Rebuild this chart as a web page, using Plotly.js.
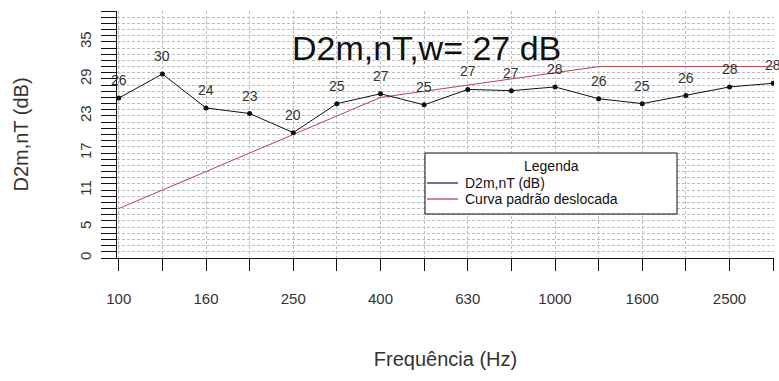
<!DOCTYPE html>
<html><head><meta charset="utf-8">
<script src="https://cdn.plot.ly/plotly-3.0.1.min.js"></script>
<style>html,body{margin:0;padding:0;background:#fff}</style>
</head><body><div id="chart" style="width:779px;height:381px"></div>
<script>
// ---- data ----
const frequencies = ['100','125','160','200','250','315','400','500','630','800','1000','1250','1600','2000','2500','3150'];
const xTickLabels = ['100','','160','','250','','400','','630','','1000','','1600','','2500',''];
const measured = [25.9, 29.8, 24.3, 23.4, 20.3, 25.0, 26.6, 24.8, 27.3, 27.1, 27.7, 25.8, 25.0, 26.3, 27.7, 28.3];
const shiftedReference = [8, 11, 14, 17, 20, 23, 26, 27, 28, 29, 30, 31, 31, 31, 31, 31];
const yTickLabels = [0, 5, 11, 17, 23, 29, 35];
const ratingText = 'D2m,nT,w= 27 dB';
const legendTitle = 'Legenda';
const seriesNames = ['D2m,nT (dB)', 'Curva padrão deslocada'];
const xTitle = 'Frequência (Hz)';
const yTitle = 'D2m,nT (dB)';

// ---- build ----
const FONT = 'Liberation Sans, Arial, sans-serif';
const W = 779, H = 381;
const M = {l: 117, r: 5, t: 11, b: 123};
const plotW = W - M.l - M.r, plotH = H - M.t - M.b;
const px = x => (x - M.l) / plotW;
const py = y => (H - M.b - y) / plotH;

const xIdx = frequencies.map((_, i) => i);
const yMinor = [];
for (let v = 0; v <= 40; v++) yMinor.push(v);
const yMinorText = yMinor.map(v => yTickLabels.includes(v) ? String(v) : '');

const colData = '#111111';
const colRef = '#b5434e';
const colLegendData = '#1f2a6b';

const traces = [
  {x: xIdx, y: shiftedReference, mode: 'lines', name: seriesNames[1],
   line: {color: colRef, width: 1}, showlegend: false, hoverinfo: 'skip'},
  {x: xIdx, y: measured, mode: 'lines+markers', name: seriesNames[0],
   line: {color: colData, width: 1}, marker: {color: colData, size: 5},
   showlegend: false, hoverinfo: 'skip'}
];

const annotations = measured.map((v, i) => ({
  x: i, y: v, xref: 'x', yref: 'y', yshift: 18, showarrow: false,
  xanchor: 'center', yanchor: 'middle',
  text: String(Math.round(v)), font: {family: FONT, size: 14, color: '#333333'}
}));
annotations.push({
  x: 7.05, y: 34.0, xref: 'x', yref: 'y', showarrow: false, text: ratingText,
  xanchor: 'center', yanchor: 'middle',
  font: {family: FONT, size: 34, color: '#111111'}
});
// legend (drawn)
const legFont = {family: FONT, size: 14, color: '#111'};
annotations.push({x: px(551), y: py(166), xref: 'paper', yref: 'paper', showarrow: false,
  xanchor: 'center', yanchor: 'middle', text: legendTitle, font: legFont});
annotations.push({x: px(463), y: py(183), xref: 'paper', yref: 'paper', xanchor: 'left', yanchor: 'middle',
  showarrow: false, text: seriesNames[0], font: legFont});
annotations.push({x: px(463), y: py(199), xref: 'paper', yref: 'paper', xanchor: 'left', yanchor: 'middle',
  showarrow: false, text: seriesNames[1], font: legFont});

const shapes = [
  {type: 'rect', xref: 'paper', yref: 'paper', x0: px(425), x1: px(677), y0: py(214), y1: py(153),
   fillcolor: '#ffffff', line: {color: '#111', width: 1}},
  {type: 'line', xref: 'paper', yref: 'paper', x0: px(427), x1: px(458), y0: py(183), y1: py(183),
   line: {color: colLegendData, width: 1.3}},
  {type: 'line', xref: 'paper', yref: 'paper', x0: px(427), x1: px(458), y0: py(199), y1: py(199),
   line: {color: colRef, width: 1.3}}
];

const layout = {
  width: W, height: H, margin: M,
  paper_bgcolor: '#fff', plot_bgcolor: '#fff',
  showlegend: false,
  xaxis: {
    range: [-0.04, 15.02], tickmode: 'array', tickvals: xIdx, ticktext: xTickLabels,
    ticks: 'outside', ticklen: 12, tickwidth: 1, tickcolor: '#111',
    showline: true, linecolor: '#111', linewidth: 1,
    showgrid: true, gridcolor: '#bdbdbd', griddash: '3px,2px', gridwidth: 1,
    zeroline: false, ticklabelstandoff: 15,
    tickfont: {family: FONT, size: 15, color: '#333'},
    title: {text: xTitle, font: {family: FONT, size: 20, color: '#333'}, standoff: 45}
  },
  yaxis: {
    range: [0, 40], tickmode: 'array', tickvals: yMinor, ticktext: yMinorText,
    tickangle: -90,
    ticks: 'outside', ticklen: 15, tickwidth: 1, tickcolor: '#111',
    showline: true, linecolor: '#111', linewidth: 1,
    showgrid: true, gridcolor: '#bdbdbd', griddash: '3px,2px', gridwidth: 1,
    zeroline: false, ticklabelstandoff: 4,
    tickfont: {family: FONT, size: 15, color: '#333'},
    title: {text: yTitle, font: {family: FONT, size: 20, color: '#333'}, standoff: 43}
  },
  annotations: annotations,
  shapes: shapes
};

Plotly.newPlot('chart', traces, layout, {staticPlot: true, displayModeBar: false});
</script>
</body></html>
